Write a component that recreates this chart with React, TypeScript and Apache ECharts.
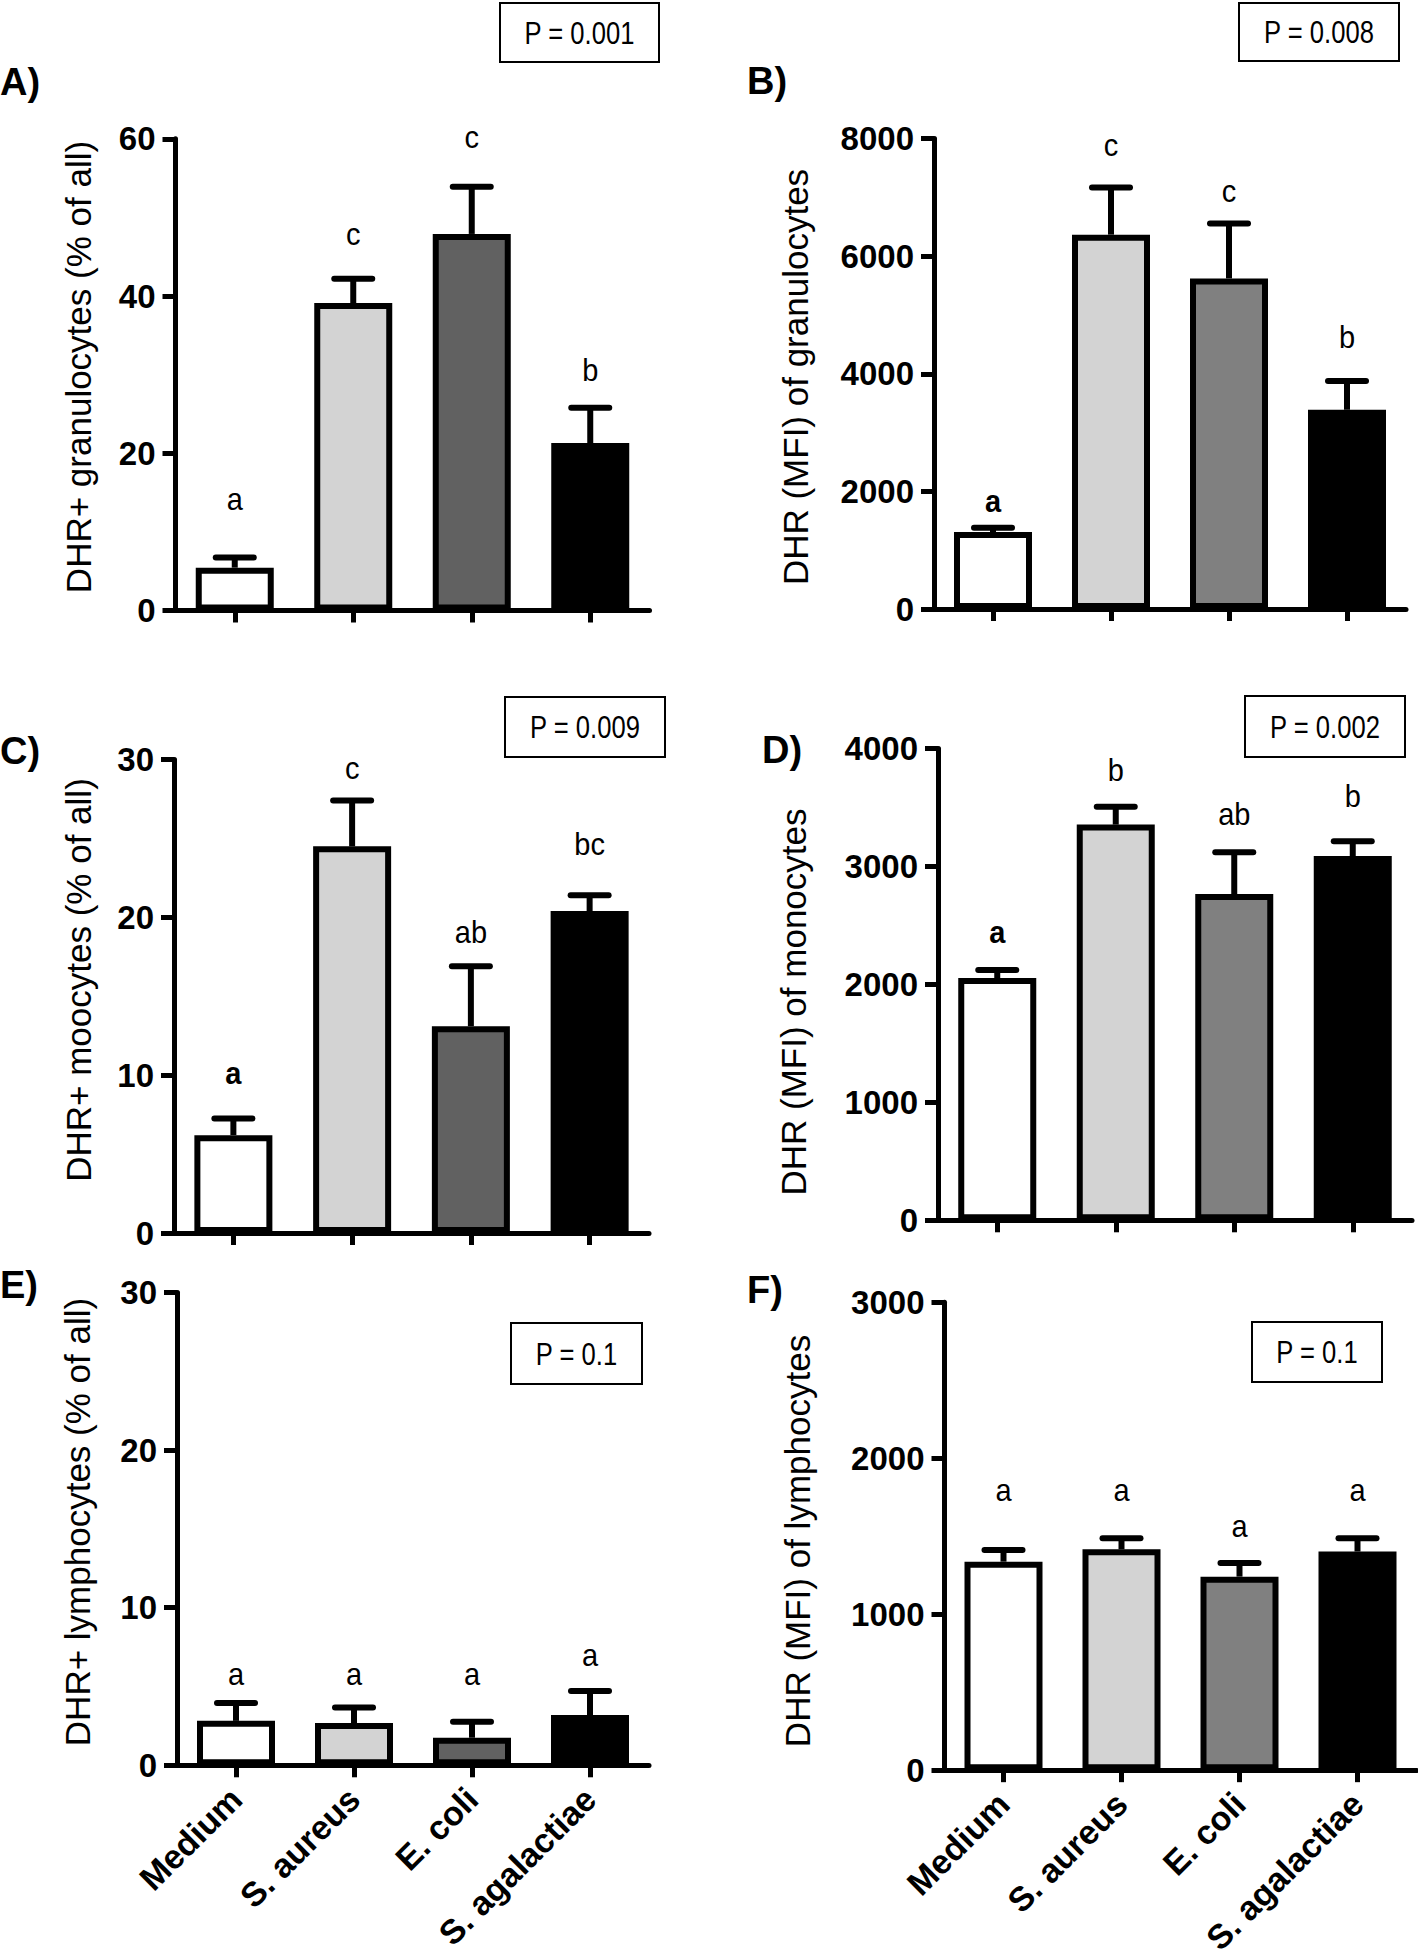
import React, { useEffect, useRef } from "react";
import * as echarts from "echarts";

// ---------- data ----------
const categories = ["Medium", "S. aureus", "E. coli", "S. agalactiae"];

const colorsDarkEcoli = ["#ffffff", "#d3d3d3", "#616161", "#000000"];
const colorsMidEcoli = ["#ffffff", "#d3d3d3", "#808080", "#000000"];

// A) DHR+ granulocytes (% of all)
const aMeans = [5.45, 39.1, 47.9, 21.3];
const aErrTop = [6.75, 42.2, 53.9, 25.8];
const aLetters = ["a", "c", "c", "b"];
const aLetterY = [14.3, 48, 60.3, 30.6];
const aTicks = { max: 60, interval: 20 };
const aP = "P = 0.001";

// B) DHR (MFI) of granulocytes
const bMeans = [1308, 6365, 5621, 3388];
const bErrTop = [1380, 7165, 6553, 3875];
const bLetters = ["a", "c", "c", "b"];
const bLetterY = [1843, 7896, 7117, 4626];
const bTicks = { max: 8000, interval: 2000 };
const bP = "P = 0.008";

// C) DHR+ moocytes (% of all)
const cMeans = [6.2, 24.5, 13.1, 20.4];
const cErrTop = [7.26, 27.4, 16.9, 21.4];
const cLetters = ["a", "c", "ab", "bc"];
const cLetterY = [10.2, 29.5, 19.1, 24.7];
const cTicks = { max: 30, interval: 10 };
const cP = "P = 0.009";

// D) DHR (MFI) of monocytes
const dMeans = [2053, 3354, 2765, 3088];
const dErrTop = [2122, 3505, 3119, 3213];
const dLetters = ["a", "b", "ab", "b"];
const dLetterY = [2445, 3824, 3448, 3605];
const dTicks = { max: 4000, interval: 1000 };
const dP = "P = 0.002";

// E) DHR+ lymphocytes (% of all)
const eMeans = [2.82, 2.68, 1.75, 3.19];
const eErrTop = [3.95, 3.67, 2.77, 4.72];
const eLetters = ["a", "a", "a", "a"];
const eLetterY = [5.8, 5.8, 5.8, 7.0];
const eTicks = { max: 30, interval: 10 };
const eP = "P = 0.1";

// F) DHR (MFI) of lymphocytes
const fMeans = [1337, 1416, 1241, 1402];
const fErrTop = [1411, 1487, 1329, 1487];
const fLetters = ["a", "a", "a", "a"];
const fLetterY = [1799, 1799, 1572, 1799];
const fTicks = { max: 3000, interval: 1000 };
const fP = "P = 0.1";

const yTitles = [
  "DHR+ granulocytes (% of all)",
  "DHR (MFI) of granulocytes",
  "DHR+ moocytes (% of all)",
  "DHR (MFI) of monocytes",
  "DHR+ lymphocytes (% of all)",
  "DHR (MFI) of lymphocytes",
];
const panelTags = ["A)", "B)", "C)", "D)", "E)", "F)"];

// ---------- layout ----------
const FONT = "'Liberation Sans', Arial, sans-serif";

const panels = [
  { means: aMeans, err: aErrTop, letters: aLetters, ly: aLetterY, ticks: aTicks, p: aP, colors: colorsDarkEcoli,
    bold: [false, false, false, false], showX: false,
    grid: { left: 175.5, top: 138.8, width: 474, height: 471.7 },
    tag: { x: 0, y: 82 }, title: { x: 78, y: 367 }, box: { x: 500, y: 3, w: 159, h: 59 } },
  { means: bMeans, err: bErrTop, letters: bLetters, ly: bLetterY, ticks: bTicks, p: bP, colors: colorsMidEcoli,
    bold: [true, false, false, false], showX: false,
    grid: { left: 934, top: 138.5, width: 472, height: 470.5 },
    tag: { x: 747, y: 81 }, title: { x: 795, y: 377 }, box: { x: 1239, y: 3, w: 160, h: 58 } },
  { means: cMeans, err: cErrTop, letters: cLetters, ly: cLetterY, ticks: cTicks, p: cP, colors: colorsDarkEcoli,
    bold: [true, false, false, false], showX: false,
    grid: { left: 174, top: 759.5, width: 475, height: 473.5 },
    tag: { x: 0, y: 751 }, title: { x: 78, y: 980 }, box: { x: 505, y: 697, w: 160, h: 60 } },
  { means: dMeans, err: dErrTop, letters: dLetters, ly: dLetterY, ticks: dTicks, p: dP, colors: colorsMidEcoli,
    bold: [true, false, false, false], showX: false,
    grid: { left: 938, top: 748.4, width: 474, height: 471.9 },
    tag: { x: 762, y: 750 }, title: { x: 793, y: 1002 }, box: { x: 1245, y: 696, w: 160, h: 61 } },
  { means: eMeans, err: eErrTop, letters: eLetters, ly: eLetterY, ticks: eTicks, p: eP, colors: colorsDarkEcoli,
    bold: [false, false, false, false], showX: true,
    grid: { left: 177, top: 1292.5, width: 472, height: 472.8 },
    tag: { x: 0, y: 1285 }, title: { x: 77, y: 1522 }, box: { x: 511, y: 1323, w: 131, h: 61 } },
  { means: fMeans, err: fErrTop, letters: fLetters, ly: fLetterY, ticks: fTicks, p: fP, colors: colorsMidEcoli,
    bold: [false, false, false, false], showX: true,
    grid: { left: 944.5, top: 1302.3, width: 472, height: 472 },
    tag: { x: 747, y: 1290 }, title: { x: 797, y: 1541 }, box: { x: 1252, y: 1322, w: 130, h: 60 } },
];

function buildOption() {
  const grid: any[] = [];
  const xAxis: any[] = [];
  const yAxis: any[] = [];
  const series: any[] = [];
  const graphic: any[] = [];

  panels.forEach((pn, i) => {
    grid.push({ ...pn.grid, containLabel: false });
    xAxis.push({
      type: "category",
      gridIndex: i,
      data: categories,
      axisLine: { show: true, lineStyle: { color: "#000", width: 5 } },
      axisTick: { show: true, alignWithLabel: true, length: 12, lineStyle: { color: "#000", width: 5 } },
      axisLabel: {
        show: pn.showX,
        interval: 0,
        rotate: 45,
        margin: 28,
        color: "#000",
        fontSize: 34,
        fontWeight: "bold",
        fontFamily: FONT,
      },
      splitLine: { show: false },
    });
    yAxis.push({
      type: "value",
      gridIndex: i,
      min: 0,
      max: pn.ticks.max,
      interval: pn.ticks.interval,
      axisLine: { show: true, lineStyle: { color: "#000", width: 5 } },
      axisTick: { show: true, length: 13, lineStyle: { color: "#000", width: 5 } },
      axisLabel: {
        color: "#000",
        fontSize: 33,
        fontWeight: "bold",
        fontFamily: FONT,
        margin: 20,
        formatter: (v: number) => String(v),
      },
      splitLine: { show: false },
    });
    series.push({
      type: "bar",
      xAxisIndex: i,
      yAxisIndex: i,
      barWidth: 78,
      data: pn.means.map((v, j) => ({ value: v, itemStyle: { color: pn.colors[j] } })),
      itemStyle: { borderColor: "#000", borderWidth: 6 },
      z: 2,
    });
    series.push({
      type: "custom",
      xAxisIndex: i,
      yAxisIndex: i,
      z: 3,
      data: pn.means.map((v, j) => [j, v, pn.err[j]]),
      encode: { x: 0, y: [1, 2] },
      renderItem: (params: any, api: any) => {
        const x = api.value(0);
        const p0 = api.coord([x, api.value(1)]);
        const p1 = api.coord([x, api.value(2)]);
        return {
          type: "group",
          children: [
            { type: "line", shape: { x1: p0[0], y1: p0[1], x2: p1[0], y2: p1[1] }, style: { stroke: "#000", lineWidth: 6 } },
            { type: "line", shape: { x1: p1[0] - 19, y1: p1[1], x2: p1[0] + 19, y2: p1[1] }, style: { stroke: "#000", lineWidth: 6, lineCap: "round" } },
          ],
        };
      },
    });
    series.push({
      type: "custom",
      xAxisIndex: i,
      yAxisIndex: i,
      z: 4,
      clip: false,
      data: pn.ly.map((v, j) => [j, v]),
      encode: { x: 0, y: 1 },
      renderItem: (params: any, api: any) => {
        const idx = params.dataIndex;
        const p = api.coord([api.value(0), api.value(1)]);
        return {
          type: "text",
          x: p[0],
          y: p[1],
          scaleY: 1.1,
          style: {
            text: pn.letters[idx],
            fill: "#000",
            fontSize: 29,
            fontWeight: pn.bold[idx] ? "bold" : "normal",
            fontFamily: FONT,
            align: "center",
            verticalAlign: "middle",
          },
        };
      },
    });

    graphic.push({
      type: "text",
      x: pn.tag.x,
      y: pn.tag.y,
      style: { text: panelTags[i], fill: "#000", fontSize: 38, fontWeight: "bold", fontFamily: FONT, align: "left", verticalAlign: "middle" },
    });
    graphic.push({
      type: "text",
      x: pn.title.x,
      y: pn.title.y,
      rotation: Math.PI / 2,
      style: { text: yTitles[i], fill: "#000", fontSize: 35, fontFamily: FONT, align: "center", verticalAlign: "middle" },
    });
    graphic.push({
      type: "rect",
      shape: { x: pn.box.x, y: pn.box.y, width: pn.box.w, height: pn.box.h },
      style: { fill: "#fff", stroke: "#000", lineWidth: 2 },
    });
    graphic.push({
      type: "text",
      x: pn.box.x + pn.box.w / 2,
      y: pn.box.y + pn.box.h / 2,
      scaleX: 0.8,
      style: { text: pn.p, fill: "#000", fontSize: 32, fontFamily: FONT, align: "center", verticalAlign: "middle" },
    });
  });

  return {
    animation: false,
    backgroundColor: "#ffffff",
    grid,
    xAxis,
    yAxis,
    series,
    graphic,
  };
}

export default function App() {
  const ref = useRef<HTMLDivElement>(null);
  useEffect(() => {
    document.body.style.margin = "0";
    const chart = echarts.init(ref.current as HTMLDivElement, null, { renderer: "svg" });
    chart.setOption(buildOption() as any);
    return () => chart.dispose();
  }, []);
  return <div ref={ref} style={{ width: 1418, height: 1958 }} />;
}
